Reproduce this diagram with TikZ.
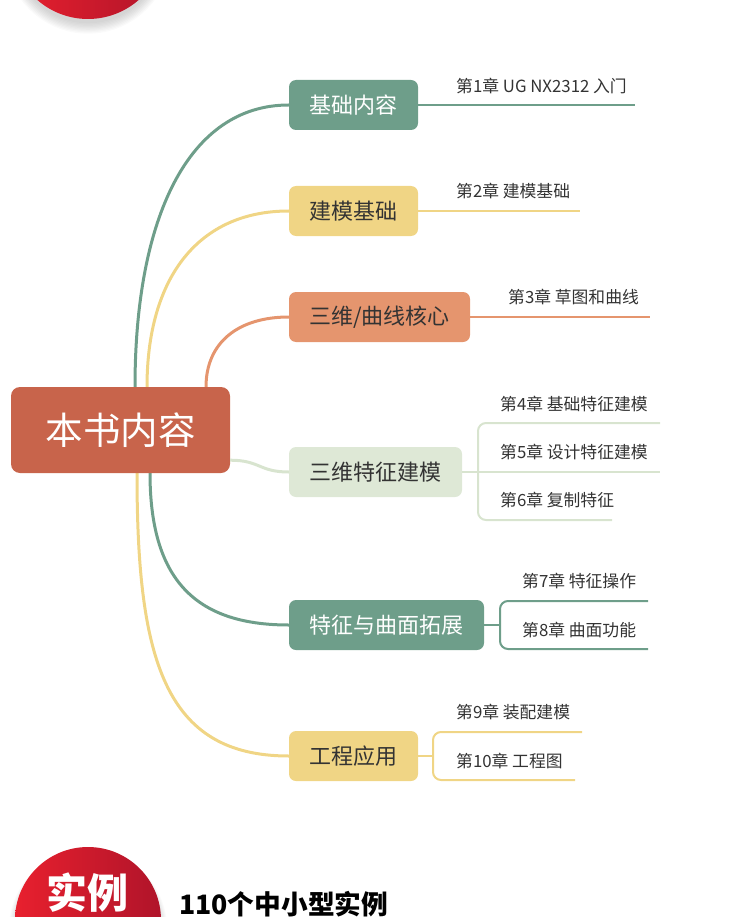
\documentclass[tikz,border=0pt]{standalone}
\usepackage{fontspec}
\newfontfamily\cjk{Noto Sans CJK SC}
\usetikzlibrary{calc}
\definecolor{cgreen}{HTML}{6E9E8A}
\definecolor{cyellow}{HTML}{F0D585}
\definecolor{corange}{HTML}{E5956E}
\definecolor{clight}{HTML}{DEE8D6}
\definecolor{clightline}{HTML}{D8E4CF}
\definecolor{ccenter}{HTML}{C8644B}
\definecolor{ctext}{HTML}{333333}
\definecolor{redA}{HTML}{E8202E}
\definecolor{redB}{HTML}{B0142A}
\tikzset{
  topic/.style={rectangle, rounded corners=7pt, minimum height=50pt, inner sep=0pt, font=\cjk\fontsize{22}{26}\selectfont},
  chap/.style={anchor=west, inner sep=0pt, text=ctext, font=\cjk\fontsize{16.8}{20}\selectfont},
  mainline/.style={line width=3pt},
  subline/.style={line width=2pt},
}
\begin{document}
\begin{tikzpicture}[x=1pt,y=-1pt]
\useasboundingbox (0,0) rectangle (750,917);
% top circle with soft shadow
\foreach \i in {1,...,9} \fill[black,opacity=0.02] (88,{-52+0.3*\i}) circle ({74+\i});
\shade[left color=redA, right color=redB] (88,-58) circle (77);
% bottom circle
\foreach \i in {1,...,9} \fill[black,opacity=0.02] (88,{926+0.3*\i}) circle ({70+\i});
\shade[left color=redA, right color=redB] (88,920) circle (73);
\node[text=white, inner sep=0pt, font=\cjk\bfseries\fontsize{41}{44}\selectfont] (shili) at (87,893) {实例};
\node[anchor=west, inner sep=0pt, text=black, font=\cjk\bfseries\fontsize{26.7}{30}\selectfont] (count) at (179,904) {110个中小型实例};

% nodes
\node[topic, fill=cgreen, text=white, minimum width=129pt] (n1) at (353.5,105) {基础内容};
\node[topic, fill=cyellow, text=ctext, minimum width=129pt] (n2) at (353.5,211) {建模基础};
\node[topic, fill=corange, text=ctext, minimum width=181pt] (n3) at (379.5,317) {三维/曲线核心};
\node[topic, fill=clight, text=ctext, minimum width=173pt] (n4) at (375.5,472) {三维特征建模};
\node[topic, fill=cgreen, text=white, minimum width=195pt] (n5) at (386.5,625) {特征与曲面拓展};
\node[topic, fill=cyellow, text=ctext, minimum width=129pt] (n6) at (353.5,756) {工程应用};

% center node (placed first for anchors, drawn on top via layering order below)
\coordinate (g1) at (135,387);
\coordinate (y1) at (147,387);
\coordinate (o1) at (206,387);
\coordinate (g2) at (150,473);
\coordinate (y2) at (137,473);

% main curves (behind center node)
\draw[mainline, cgreen] (g1) .. controls +(0,-170) and +(-100,0) .. (n1.west);
\draw[mainline, cyellow] (y1) .. controls +(0,-110) and +(-90,0) .. (n2.west);
\draw[mainline, corange] (o1) .. controls +(0,-45) and +(-50,0) .. (n3.west);
\draw[mainline, cgreen] (g2) .. controls +(0,105) and +(-95,0) .. (n5.west);
\draw[mainline, cyellow] (y2) .. controls +(0,185) and +(-125,0) .. (n6.west);

\node[rectangle, rounded corners=9pt, fill=ccenter, text=white, minimum width=219pt, minimum height=86pt, inner sep=0pt, font=\cjk\fontsize{37.5}{42}\selectfont] (c) at (120.5,430) {本书内容};
\draw[mainline, clightline] ($(c.south east)+(0,-13)$) .. controls +(30,0) and +(-30,0) .. (n4.west);

% sub lines
\coordinate (e1) at (635,105);
\coordinate (e2) at (580,211);
\coordinate (e3) at (650,317);
\draw[subline, cgreen] (n1.east) -- (e1);
\draw[subline, cyellow] (n2.east) -- (e2);
\draw[subline, corange] (n3.east) -- (e3);

\coordinate (e4a) at (660,423);
\coordinate (e4b) at (660,472);
\coordinate (e4c) at (612,520);
\draw[subline, clightline] (n4.east) -- (e4b);
\draw[subline, clightline, rounded corners=8pt] (e4a) -- (478,423) -- (478,520) -- (e4c);

\coordinate (e5a) at (648,601);
\coordinate (e5b) at (648,649);
\draw[subline, cgreen] (n5.east) -- (500,625);
\draw[subline, cgreen, rounded corners=8pt] (e5a) -- (500,601) -- (500,649) -- (e5b);

\coordinate (e6a) at (582,732);
\coordinate (e6b) at (575,780);
\draw[subline, cyellow] (n6.east) -- (433,756);
\draw[subline, cyellow, rounded corners=8pt] (e6a) -- (433,732) -- (433,780) -- (e6b);

% chapter labels
\node[chap] (t1) at (456,86) {第1章 UG NX2312 入门};
\node[chap] (t2) at (456,191) {第2章 建模基础};
\node[chap] (t3) at (508,297) {第3章 草图和曲线};
\node[chap] (t4) at (500,404) {第4章 基础特征建模};
\node[chap] (t5) at (500,452) {第5章 设计特征建模};
\node[chap] (t6) at (500,500) {第6章 复制特征};
\node[chap] (t7) at (522,581) {第7章 特征操作};
\node[chap] (t8) at (522,630) {第8章 曲面功能};
\node[chap] (t9) at (456,712) {第9章 装配建模};
\node[chap] (t10) at (456,761) {第10章 工程图};
\end{tikzpicture}
\end{document}
